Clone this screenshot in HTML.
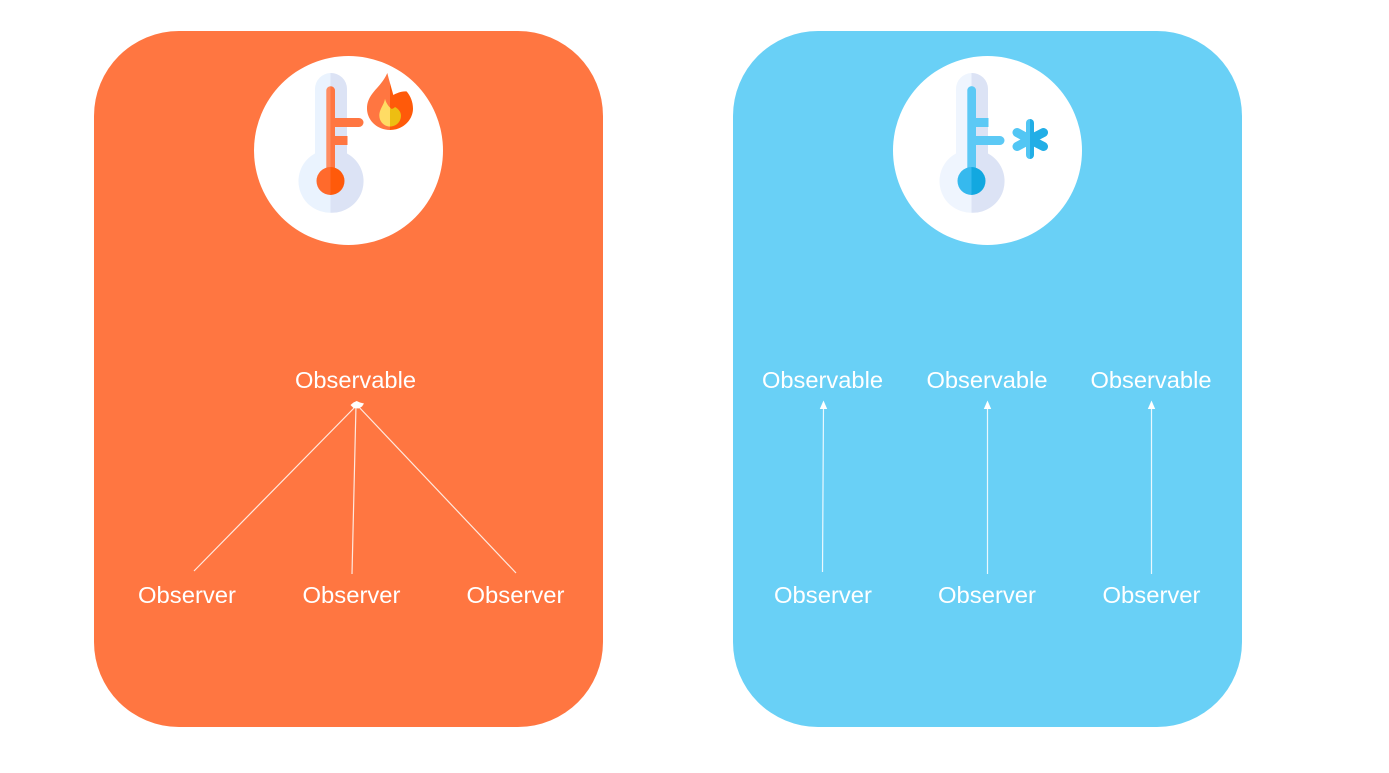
<!DOCTYPE html>
<html>
<head>
<meta charset="utf-8">
<style>
html,body{margin:0;padding:0;background:#fff;width:1389px;height:773px;overflow:hidden}
svg{display:block}
text{font-family:"Liberation Sans",sans-serif;font-size:23px;fill:#fff}
</style>
</head>
<body>
<svg width="1389" height="773" viewBox="0 0 1389 773" xmlns="http://www.w3.org/2000/svg">
<defs>
<clipPath id="fl"><rect x="360" y="68" width="30" height="70"/></clipPath>
<clipPath id="fr"><rect x="390" y="68" width="30" height="70"/></clipPath>
<clipPath id="sl"><rect x="1005" y="110" width="25" height="55"/></clipPath>
<clipPath id="sr"><rect x="1030" y="110" width="25" height="55"/></clipPath>
<path id="flame" d="M387.300 73C389 80 391.500 88 393.300 95C396.500 93.500 401 91 406.700 91.500C410.500 96 413 102 413 108.500C413 120 403 130 390 130C377 130 367 120 367 108.500C367 93 381 88 387.300 73Z"/>
<path id="inner" d="M385 98.700C386 103 389 107 391.700 109C393 108.500 394.200 108 395 107C398.500 109 401 112 401 115.500C401 121.500 396.500 126.500 390 126.500C384 126.500 379.300 121.500 379.300 115.500C379.300 109 384 105 385 98.700Z"/>
<g id="flake" fill="none" stroke-linecap="round">
<path stroke-width="8" d="M1030 123V155"/>
<path stroke-width="9" d="M1030 139.500L1017 132.500M1030 139.500L1017 146.500M1030 139.500L1043.500 132.500M1030 139.500L1043.500 146.500"/>
</g>
</defs>
<rect width="1389" height="773" fill="#fff"/>
<rect x="94" y="31" width="509" height="696" rx="85" fill="#FF7641"/>
<rect x="733" y="31" width="509" height="696" rx="85" fill="#69D0F6"/>
<circle cx="348.5" cy="150.5" r="94.5" fill="#fff"/>
<circle cx="987.5" cy="150.5" r="94.5" fill="#fff"/>

<!-- Hot thermometer -->
<path d="M330.500 73a16 16 0 0 0-15.500 16v64.500a31.500 31.500 0 0 0 15.500 59.200z" fill="#EAF3FE"/>
<path d="M330.500 73a16 16 0 0 1 16.500 16v64.500a31.500 31.500 0 0 1-16.500 59.200z" fill="#DCE3F5"/>
<path d="M326.300 90.500a4.300 4.300 0 0 1 4.200-4.300V175h-4.200z" fill="#FF8D62"/>
<path d="M330.500 86.200a4.400 4.400 0 0 1 4.500 4.300V175h-4.500z" fill="#FF7641"/>
<path d="M334.500 118h24.500a4.500 4.500 0 0 1 0 9h-24.500zM334.500 136h13v9h-13z" fill="#FF7641"/>
<path d="M330.500 167a14 14 0 0 0 0 28z" fill="#FF6A2C"/>
<path d="M330.500 167a14 14 0 0 1 0 28z" fill="#FF5A0A"/>
<!-- Flame -->
<use href="#flame" fill="#FF7641" clip-path="url(#fl)"/>
<use href="#flame" fill="#FF5A0A" clip-path="url(#fr)"/>
<use href="#inner" fill="#FFDC64" clip-path="url(#fl)"/>
<use href="#inner" fill="#EDBE12" clip-path="url(#fr)"/>

<!-- Cold thermometer -->
<path d="M971.500 73a16 16 0 0 0-15.500 16v64.500a31.500 31.500 0 0 0 15.500 59.200z" fill="#EFF5FE"/>
<path d="M971.500 73a16 16 0 0 1 16.500 16v64.500a31.500 31.500 0 0 1-16.500 59.200z" fill="#DCE3F5"/>
<path d="M967.300 90.500a4.300 4.300 0 0 1 8.700 0V175h-8.700z" fill="#5CC9F5"/>
<path d="M975.500 118h13v9h-13zM975.500 136h24.500a4.500 4.500 0 0 1 0 9h-24.500z" fill="#5CC9F5"/>
<path d="M971.500 167a14 14 0 0 0 0 28z" fill="#36B9EE"/>
<path d="M971.500 167a14 14 0 0 1 0 28z" fill="#12A8E0"/>
<!-- Snowflake -->
<use href="#flake" stroke="#52C6F4" clip-path="url(#sl)"/>
<use href="#flake" stroke="#22AEE6" clip-path="url(#sr)"/>

<!-- Hot connectors -->
<g stroke="#FFE9DF" stroke-width="1.200" fill="none">
<path d="M194 571L357 405M352 574L356 405M516 573L357 405"/>
</g>
<path d="M350.500 405L353.500 402.500L356.700 401L360 402.500L364 403.500L362 406.500L358.500 408.500L353.500 408Z" fill="#fff"/>

<!-- Cold connectors -->
<g stroke="#EAF8FE" stroke-width="1.200" fill="none">
<path d="M822.500 572L823.500 405M987.500 574V405M1151.500 574V405"/>
</g>
<g fill="#fff">
<path d="M823.500 400.500l3.700 8.500h-7.400zM987.500 400.500l3.700 8.500h-7.400zM1151.500 400.500l3.700 8.500h-7.400z"/>
</g>

<g text-anchor="start">
<text x="295" y="388" textLength="121" lengthAdjust="spacingAndGlyphs">Observable</text>
<text x="138" y="603" textLength="98" lengthAdjust="spacingAndGlyphs">Observer</text>
<text x="302.500" y="603" textLength="98" lengthAdjust="spacingAndGlyphs">Observer</text>
<text x="466.500" y="603" textLength="98" lengthAdjust="spacingAndGlyphs">Observer</text>
<text x="762" y="388" textLength="121" lengthAdjust="spacingAndGlyphs">Observable</text>
<text x="926.500" y="388" textLength="121" lengthAdjust="spacingAndGlyphs">Observable</text>
<text x="1090.500" y="388" textLength="121" lengthAdjust="spacingAndGlyphs">Observable</text>
<text x="774" y="603" textLength="98" lengthAdjust="spacingAndGlyphs">Observer</text>
<text x="938" y="603" textLength="98" lengthAdjust="spacingAndGlyphs">Observer</text>
<text x="1102.500" y="603" textLength="98" lengthAdjust="spacingAndGlyphs">Observer</text>
</g>
</svg>
</body>
</html>
